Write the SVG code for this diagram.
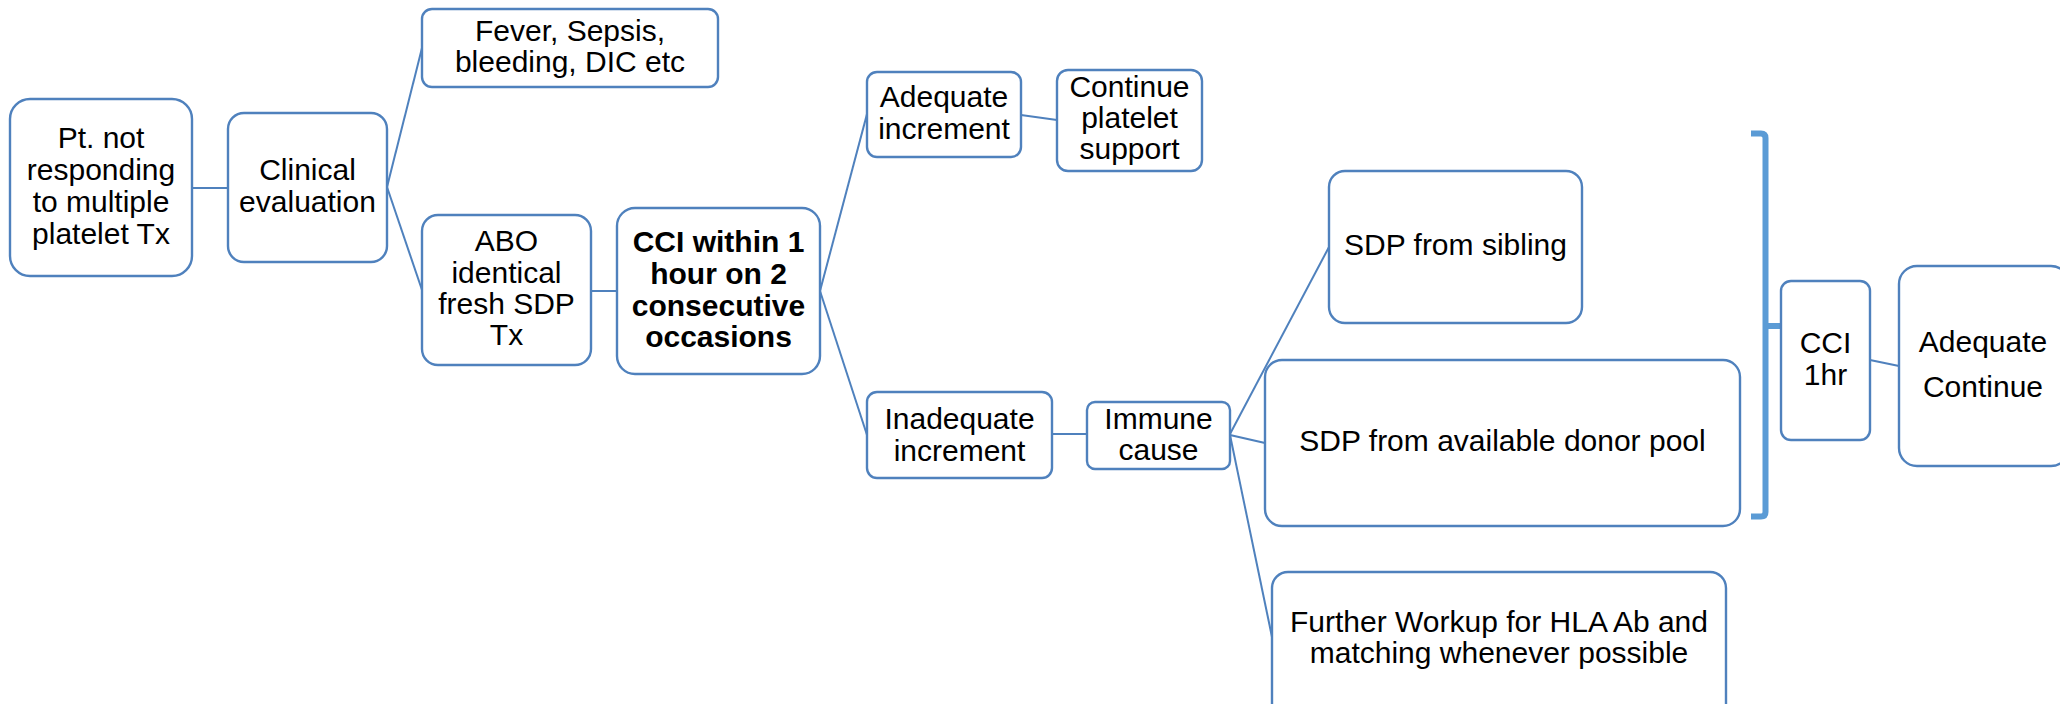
<svg xmlns="http://www.w3.org/2000/svg" width="2060" height="704" viewBox="0 0 2060 704">
<style>
.box{fill:#FFFFFF;stroke:#4F81BD;stroke-width:2.4}
.t{font-family:"Liberation Sans",Arial,sans-serif;font-size:30px;fill:#000000;text-anchor:middle}
.b{font-weight:bold}
.c{fill:none;stroke:#4F81BD;stroke-width:2}
.br{fill:none;stroke:#5B9BD5;stroke-width:6}
</style>
<rect x="0" y="0" width="2060" height="704" fill="#FFFFFF"/>
<g id="connectors">
<path class="c" d="M192,188 H228"/>
<path class="c" d="M387,187 L422,48"/>
<path class="c" d="M387,187 L422,290"/>
<path class="c" d="M591,291 L617,291"/>
<path class="c" d="M820,291 L867,114"/>
<path class="c" d="M820,291 L867,435"/>
<path class="c" d="M1021,115 L1057,120"/>
<path class="c" d="M1052,434 H1087"/>
<path class="c" d="M1230,434 L1329,247"/>
<path class="c" d="M1230,435 L1265,443"/>
<path class="c" d="M1230,435 L1272,637"/>
<path class="c" d="M1870,360 L1899,366"/>
</g>
<g id="n_pt"><rect class="box" x="10" y="99" width="182" height="177" rx="20"/>
<text class="t" x="101" y="148">Pt. not</text><text class="t" x="101" y="180">responding</text><text class="t" x="101" y="212">to multiple</text><text class="t" x="101" y="244">platelet Tx</text></g>
<g id="n_clinical"><rect class="box" x="228" y="113" width="159" height="149" rx="16"/>
<text class="t" x="307.5" y="180">Clinical</text><text class="t" x="307.5" y="212">evaluation</text></g>
<g id="n_fever"><rect class="box" x="422" y="9" width="296" height="78" rx="10"/>
<text class="t" x="570" y="41">Fever, Sepsis,</text><text class="t" x="570" y="72">bleeding, DIC etc</text></g>
<g id="n_abo"><rect class="box" x="422" y="215" width="169" height="150" rx="16"/>
<text class="t" x="506.5" y="251">ABO</text><text class="t" x="506.5" y="283">identical</text><text class="t" x="506.5" y="314">fresh SDP</text><text class="t" x="506.5" y="345">Tx</text></g>
<g id="n_cci"><rect class="box" x="617" y="208" width="203" height="166" rx="18"/>
<text class="t b" x="718.5" y="252">CCI within 1</text><text class="t b" x="718.5" y="284">hour on 2</text><text class="t b" x="718.5" y="316">consecutive</text><text class="t b" x="718.5" y="347">occasions</text></g>
<g id="n_adequate"><rect class="box" x="867" y="72" width="154" height="85" rx="10"/>
<text class="t" x="944" y="107">Adequate</text><text class="t" x="944" y="139">increment</text></g>
<g id="n_continue"><rect class="box" x="1057" y="70" width="145" height="101" rx="11"/>
<text class="t" x="1129.5" y="97">Continue</text><text class="t" x="1129.5" y="128">platelet</text><text class="t" x="1129.5" y="159">support</text></g>
<g id="n_inadequate"><rect class="box" x="867" y="392" width="185" height="86" rx="10"/>
<text class="t" x="959.5" y="429">Inadequate</text><text class="t" x="959.5" y="461">increment</text></g>
<g id="n_immune"><rect class="box" x="1087" y="402" width="143" height="67" rx="8"/>
<text class="t" x="1158.5" y="429">Immune</text><text class="t" x="1158.5" y="460">cause</text></g>
<g id="n_sibling"><rect class="box" x="1329" y="171" width="253" height="152" rx="16"/>
<text class="t" x="1455.5" y="255">SDP from sibling</text></g>
<g id="n_donor"><rect class="box" x="1265" y="360" width="475" height="166" rx="17"/>
<text class="t" x="1502.5" y="451">SDP from available donor pool</text></g>
<g id="n_further"><rect class="box" x="1272" y="572" width="454" height="150" rx="16"/>
<text class="t" x="1499" y="632">Further Workup for HLA Ab and</text><text class="t" x="1499" y="663">matching whenever possible</text></g>
<g id="bracket"><path class="br" d="M1751,133.5 H1761 Q1765.5,133.5 1765.5,138 V512 Q1765.5,516.5 1761,516.5 H1751 M1765.5,326 H1806"/></g>
<g id="n_cci1hr"><rect class="box" x="1781" y="281" width="89" height="159" rx="10"/>
<text class="t" x="1825.5" y="353">CCI</text><text class="t" x="1825.5" y="385">1hr</text></g>
<g id="n_adeq_cont"><rect class="box" x="1899" y="266" width="170" height="200" rx="18"/>
<text class="t" x="1983" y="352">Adequate</text><text class="t" x="1983" y="397">Continue</text></g>
</svg>
